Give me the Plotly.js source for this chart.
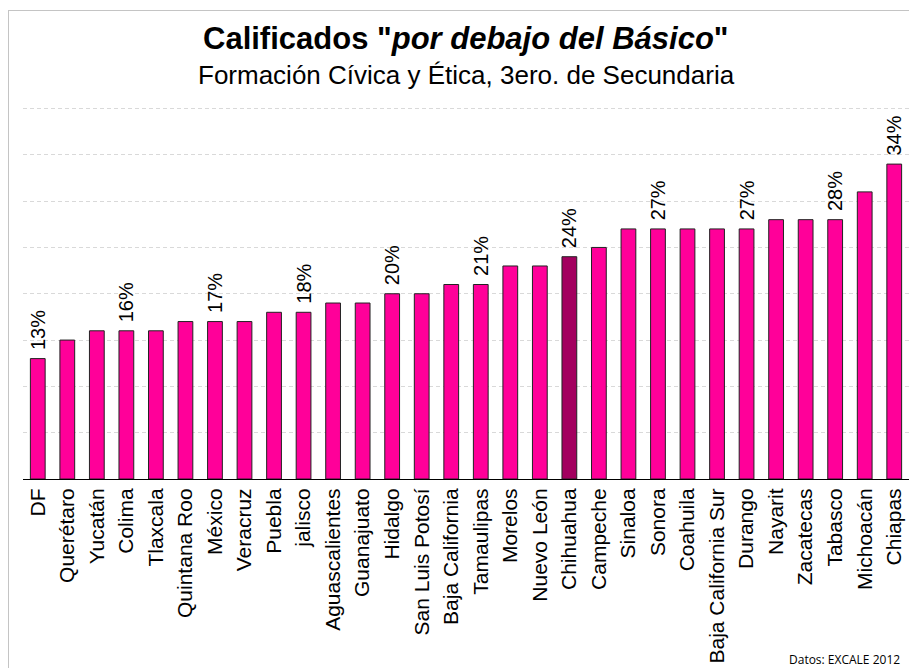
<!DOCTYPE html>
<html>
<head>
<meta charset="utf-8">
<script src="https://cdn.plot.ly/plotly-3.0.1.min.js"></script>
<style>
  html, body { margin: 0; padding: 0; background: #fff; }
  #wrap { position: relative; width: 909px; height: 668px; overflow: hidden; }
  #chart { position: absolute; left: 0; top: 0; width: 909px; height: 668px; }
  #frame { position: absolute; left: 8px; top: 10px; width: 1000px; height: 800px;
           border-left: 1px solid #c4c4c4; border-top: 1px solid #c4c4c4; pointer-events: none; }
</style>
</head>
<body>
<div id="wrap">
  <div id="chart"></div>
  <div id="frame"></div>
</div>
<script>
// Data (% of students below "Básico")
const states = ["DF","Querétaro","Yucatán","Colima","Tlaxcala","Quintana Roo","México","Veracruz","Puebla","jalisco",
  "Aguascalientes","Guanajuato","Hidalgo","San Luis Potosí","Baja California","Tamaulipas","Morelos","Nuevo León","Chihuahua","Campeche",
  "Sinaloa","Sonora","Coahuila","Baja California Sur","Durango","Nayarit","Zacatecas","Tabasco","Michoacán","Chiapas"];
const values = [13,15,16,16,16,17,17,17,18,18,
  19,19,20,20,21,21,23,23,24,25,
  27,27,27,27,27,28,28,28,31,34];
const labeled = ["DF","Colima","México","jalisco","Hidalgo","Tamaulipas","Chihuahua","Sonora","Durango","Tabasco","Chiapas"];
const highlight = "Chihuahua";

const pink = "#FF0099";
const dark = "#A3005F";

const barText = states.map((s, i) => labeled.includes(s) ? "\u00a0" + values[i] + "%" : "");
const barColors = states.map(s => s === highlight ? dark : pink);

const trace = {
  type: "bar",
  x: states,
  y: values,
  marker: { color: barColors, line: { color: "#222", width: 1 } },
  text: barText,
  textposition: "outside",
  textangle: -90,
  constraintext: "none",
  cliponaxis: false,
  textfont: { family: "Liberation Sans, Arial, sans-serif", size: 20, color: "#000" },
  hoverinfo: "none"
};

const layout = {
  width: 909, height: 668,
  margin: { l: 23, r: 0, t: 90, b: 189, pad: 0 },
  paper_bgcolor: "#fff", plot_bgcolor: "#fff",
  showlegend: false,
  bargap: 0.5,
  font: { family: "Liberation Sans, Arial, sans-serif", color: "#000" },
  xaxis: {
    type: "category",
    showline: true, linecolor: "#000", linewidth: 1,
    ticks: "", showgrid: false, zeroline: false,
    tickangle: -90,
    tickfont: { size: 21, color: "#000" },
    automargin: false
  },
  yaxis: {
    range: [0, 42],
    dtick: 5, tick0: 0,
    showticklabels: false, ticks: "",
    showgrid: true, gridcolor: "#d9d9d9", gridwidth: 1, griddash: "4px,3px",
    zeroline: false, showline: false,
    automargin: false
  },
  annotations: [
    { xref: "paper", yref: "paper", x: 0.5, y: 1.1316, xanchor: "center", yanchor: "middle",
      text: "<b>Calificados \"<i>por debajo del Básico</i>\"</b>", showarrow: false,
      font: { size: 31, color: "#000", family: "Liberation Sans, Arial, sans-serif" } },
    { xref: "paper", yref: "paper", x: 0.5, y: 1.0386, xanchor: "center", yanchor: "middle",
      text: "Formación Cívica y Ética, 3ero. de Secundaria", showarrow: false,
      font: { size: 26, color: "#000", family: "Liberation Sans, Arial, sans-serif" } },
    { xref: "paper", yref: "paper", x: 0.862, y: -0.465, xanchor: "left", yanchor: "middle",
      text: "Datos: EXCALE 2012", showarrow: false,
      font: { size: 12, color: "#000", family: "Open Sans, sans-serif" } }
  ]
};

Plotly.newPlot("chart", [trace], layout, { displayModeBar: false, staticPlot: true });
</script>
</body>
</html>
